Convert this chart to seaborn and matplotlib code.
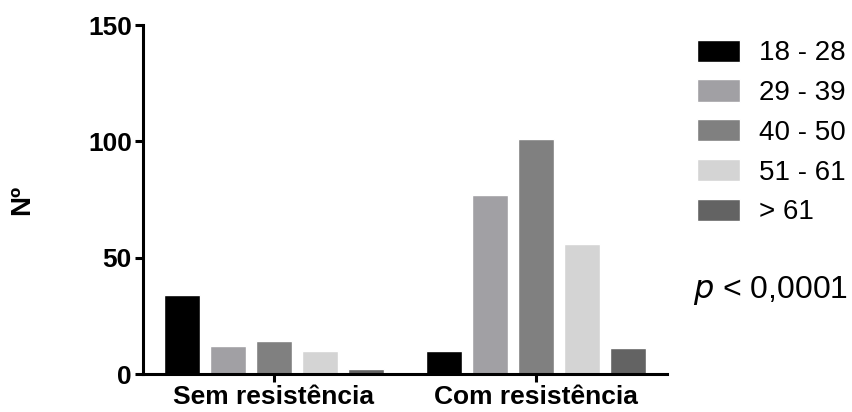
import pandas as pd
import matplotlib.pyplot as plt
import seaborn as sns

# Data
groups = ["Sem resistência", "Com resistência"]
age_bands = ["18 - 28", "29 - 39", "40 - 50", "51 - 61", "> 61"]
sem_values = [34, 12, 14, 10, 2]
com_values = [10, 77, 101, 56, 11]
bar_colors = ["#000000", "#a1a0a4", "#808080", "#d4d4d4", "#636363"]

rows = []
for band, s, c in zip(age_bands, sem_values, com_values):
    rows.append({"grupo": groups[0], "idade": band, "n": s})
    rows.append({"grupo": groups[1], "idade": band, "n": c})
df = pd.DataFrame(rows)

sns.set_style("ticks")
plt.rcParams["font.family"] = ["Liberation Sans", "DejaVu Sans"]
plt.rcParams["text.color"] = "black"
plt.rcParams["axes.labelcolor"] = "black"
plt.rcParams["xtick.color"] = "black"
plt.rcParams["ytick.color"] = "black"

fig = plt.figure(figsize=(8.53, 4.12), dpi=100)
ax = fig.add_axes([0.1676, 0.0922, 0.6144, 0.847])

sns.barplot(
    data=df, x="grupo", y="n", hue="idade",
    order=groups, hue_order=age_bands,
    palette=bar_colors, width=0.878, gap=0.22,
    saturation=1, ax=ax
)

ax.set_xlim(-0.5, 1.5)
ax.set_ylim(0, 150)
ax.set_yticks([0, 50, 100, 150])
ax.set_xlabel("")
ax.set_ylabel("Nº", fontsize=20, fontweight="bold", labelpad=38)

for sp in ["top", "right"]:
    ax.spines[sp].set_visible(False)
for sp in ["left", "bottom"]:
    ax.spines[sp].set_linewidth(2.2)
    ax.spines[sp].set_color("black")
ax.tick_params(axis="both", width=2.2, length=6, color="black",
               labelsize=19, pad=2)
for lbl in ax.get_xticklabels() + ax.get_yticklabels():
    lbl.set_fontweight("bold")

handles, labels = ax.get_legend_handles_labels()
ax.legend(handles, labels, loc="upper left", bbox_to_anchor=(1.035, 0.99),
          frameon=False, fontsize=20, handlelength=1.55, handleheight=0.85,
          handletextpad=0.7, labelspacing=0.47, borderaxespad=0)

fig.text(0.812, 0.296, "$\\mathit{p}$ < 0,0001", fontsize=23, va="center")

fig.savefig("out.png", dpi=100)
